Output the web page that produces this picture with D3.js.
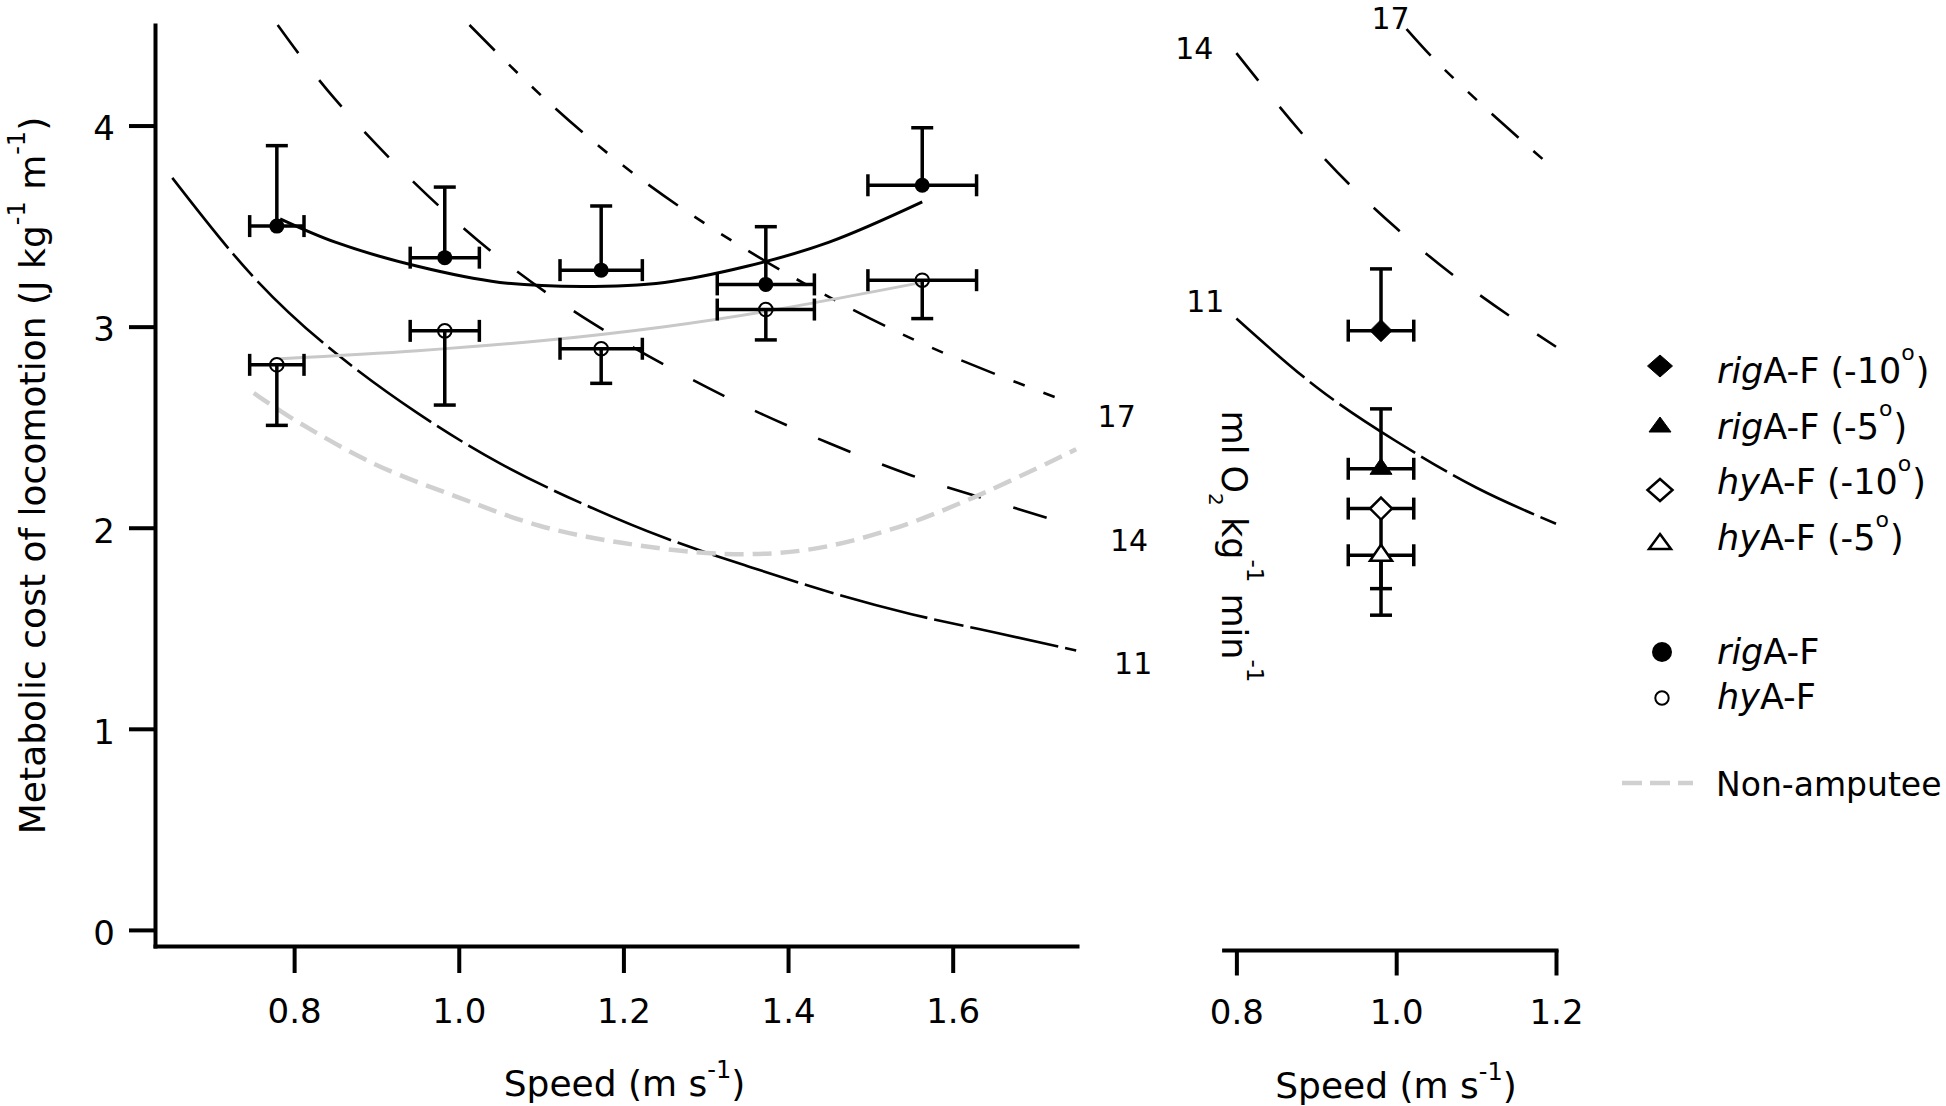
<!DOCTYPE html>
<html><head><meta charset="utf-8">
<script src="https://cdn.jsdelivr.net/npm/d3@7"></script>
<style>
body{margin:0;background:#fff}
svg{display:block}
text{font-family:"DejaVu Sans",sans-serif;fill:#000}
</style>
</head><body>
<svg id="c" width="1946" height="1106"></svg>
<script>
// ---------------- DATA ----------------
const speeds        = [0.779, 0.983, 1.173, 1.373, 1.563];
const speedErr      = [0.033, 0.042, 0.050, 0.059, 0.066];
const rigCost       = [3.500, 3.343, 3.281, 3.210, 3.703];
const rigCostErrUp  = [0.400, 0.351, 0.319, 0.287, 0.286];
const hyCost        = [2.810, 2.979, 2.890, 3.085, 3.231];
const hyCostErrDown = [0.301, 0.369, 0.172, 0.151, 0.191];

const rigFit = [[0.783,3.536],[0.85,3.42],[0.95,3.30],[1.05,3.22],[1.15,3.20],[1.25,3.22],[1.35,3.30],[1.45,3.42],[1.563,3.62]];
const hyFit  = [[0.783,2.84],[0.95,2.88],[1.10,2.93],[1.25,3.00],[1.373,3.076],[1.563,3.22]];
const nonAmputee = [[0.751,2.67],[0.795,2.55],[0.896,2.32],[0.997,2.155],[1.098,2.01],[1.198,1.925],[1.322,1.87],[1.423,1.89],[1.524,1.99],[1.625,2.15],[1.75,2.39]];

// iso-VO2 lines (ml O2 kg-1 min-1)
const isoNames = ["11", "14", "17"];
const iso11Left  = [[0.652,3.74],[0.75,3.25],[0.85,2.87],[0.95,2.57],[1.05,2.32],[1.15,2.12],[1.25,1.95],[1.35,1.81],[1.45,1.68],[1.55,1.57],[1.65,1.48],[1.75,1.39]];
const iso14Left  = [[0.78,4.50],[0.85,4.13],[0.95,3.70],[1.05,3.34],[1.15,3.05],[1.25,2.81],[1.35,2.60],[1.45,2.42],[1.55,2.26],[1.65,2.13],[1.745,2.01]];
const iso17Left  = [[1.013,4.50],[1.10,4.15],[1.20,3.80],[1.30,3.51],[1.40,3.26],[1.50,3.04],[1.60,2.85],[1.73,2.64]];
const iso11Right = [[0.80,3.06],[0.90,2.72],[1.00,2.45],[1.10,2.22],[1.20,2.04]];
const iso14Right = [[0.80,4.38],[0.90,3.90],[1.00,3.51],[1.10,3.19],[1.20,2.92]];
const iso17Right = [[1.013,4.50],[1.05,4.34],[1.10,4.15],[1.15,3.97],[1.19,3.83]];

// slope conditions (right panel)
const slopeNames   = ["rig", "rig", "hy", "hy"];
const slopeAngles  = ["-10", "-5", "-10", "-5"];
const slopeSpeed   = [0.981, 0.981, 0.981, 0.981];
const slopeSpeedErr= [0.041, 0.041, 0.041, 0.041];
const slopeCost    = [3.000, 2.313, 2.115, 1.883];
const slopeErr     = [0.307, 0.298, 0.398, 0.298];
const slopeErrDir  = [1, 1, -1, -1];

const yTicks = [0, 1, 2, 3, 4];
const xTicksLeft = [0.8, 1.0, 1.2, 1.4, 1.6];
const xTicksRight = [0.8, 1.0, 1.2];

// ---------------- LAYOUT ----------------
const svg = d3.select("#c");
const xL = d3.scaleLinear().domain([0.631, 1.751]).range([155, 1077]);
const yL = d3.scaleLinear().domain([-0.08, 4.5]).range([946, 25]);
const xR = d3.scaleLinear().domain([0.784, 1.2]).range([1223.6, 1556]);
const yR = d3.scaleLinear().domain([-0.08, 4.5]).range([950, 29]);

const dash11 = "90,7,30,7", dash14 = "35,34", dash17 = "36,20,12,20,12,20";

function lineGen(xs, ys, curve) {
  return d3.line().x(d => xs(d[0])).y(d => ys(d[1])).curve(curve || d3.curveNatural);
}
function drawLine(data, xs, ys, stroke, width, dash, curve) {
  svg.append("path").attr("d", lineGen(xs, ys, curve)(data))
    .attr("fill", "none").attr("stroke", stroke).attr("stroke-width", width)
    .attr("stroke-dasharray", dash || null);
}

// iso lines
drawLine(iso11Left, xL, yL, "#000", 2.6, dash11);
drawLine(iso14Left, xL, yL, "#000", 2.6, dash14);
drawLine(iso17Left, xL, yL, "#000", 2.6, dash17);
drawLine(iso11Right, xR, yR, "#000", 2.6, dash11);
drawLine(iso14Right, xR, yR, "#000", 2.6, dash14);
drawLine(iso17Right, xR, yR, "#000", 2.6, dash17);

// iso labels (positions relative to curve ends)
const isoLabelLayout = [
  {src: iso11Left,  end: true,  xs: xL, ys: yL, dx: 57, dy: 13, name: 0},
  {src: iso14Left,  end: true,  xs: xL, ys: yL, dx: 57, dy: 14, name: 1},
  {src: iso17Left,  end: true,  xs: xL, ys: yL, dx: 57, dy: 17, name: 2},
  {src: iso11Right, end: false, xs: xR, ys: yR, dx: -31, dy: -18, name: 0},
  {src: iso14Right, end: false, xs: xR, ys: yR, dx: -42, dy: -5, name: 1},
  {src: iso17Right, end: false, xs: xR, ys: yR, dx: -16, dy: -11, name: 2}
];
isoLabelLayout.forEach(l => {
  const p = l.end ? l.src[l.src.length - 1] : l.src[0];
  svg.append("text").attr("x", l.xs(p[0]) + l.dx).attr("y", l.ys(p[1]) + l.dy + 11)
    .attr("text-anchor", "middle").attr("font-size", 30).text(isoNames[l.name]);
});

// non-amputee
drawLine(nonAmputee, xL, yL, "#d0d0d0", 4.5, "19,9", d3.curveCatmullRom.alpha(0.5));
// fits
drawLine(hyFit, xL, yL, "#c8c8c8", 3, null, d3.curveCatmullRom.alpha(0.5));
drawLine(rigFit, xL, yL, "#000", 3, null, d3.curveCatmullRom.alpha(0.5));

// error bars
const capH = 11, ebW = 3.5;
function errBar(xs, ys, v, ve, c, cEnd) {
  const g = svg.append("g").attr("stroke", "#000").attr("stroke-width", ebW).attr("fill", "none");
  const cx = xs(v), cy = ys(c), x1 = xs(v - ve), x2 = xs(v + ve), ye = ys(cEnd);
  g.append("line").attr("x1", x1).attr("x2", x2).attr("y1", cy).attr("y2", cy);
  g.append("line").attr("x1", x1).attr("x2", x1).attr("y1", cy - capH).attr("y2", cy + capH);
  g.append("line").attr("x1", x2).attr("x2", x2).attr("y1", cy - capH).attr("y2", cy + capH);
  g.append("line").attr("x1", cx).attr("x2", cx).attr("y1", cy).attr("y2", ye);
  g.append("line").attr("x1", cx - capH).attr("x2", cx + capH).attr("y1", ye).attr("y2", ye);
}
speeds.forEach((v, i) => {
  errBar(xL, yL, v, speedErr[i], rigCost[i], rigCost[i] + rigCostErrUp[i]);
  errBar(xL, yL, v, speedErr[i], hyCost[i], hyCost[i] - hyCostErrDown[i]);
});
slopeSpeed.forEach((v, i) => {
  errBar(xR, yR, v, slopeSpeedErr[i], slopeCost[i], slopeCost[i] + slopeErrDir[i] * slopeErr[i]);
});

// markers
speeds.forEach((v, i) => {
  svg.append("circle").attr("cx", xL(v)).attr("cy", yL(rigCost[i])).attr("r", 7.5).attr("fill", "#000");
  svg.append("circle").attr("cx", xL(v)).attr("cy", yL(hyCost[i])).attr("r", 6.8)
    .attr("fill", "none").attr("stroke", "#000").attr("stroke-width", 2);
});
const diamondPath = (w, h) => `M0,${-h}L${w},0L0,${h}L${-w},0Z`;
const trianglePath = (w, top, bot) => `M0,${-top}L${w},${bot}L${-w},${bot}Z`;
function marker(kind, open, x, y, legend) {
  const d = kind === "diamond"
    ? (legend ? diamondPath(12.5, 11) : diamondPath(11, 11))
    : (legend ? trianglePath(11, 9, 6) : trianglePath(11, 10.5, 5.5));
  svg.append("path").attr("d", d).attr("transform", `translate(${x},${y})`)
    .attr("fill", open ? "#fff" : "#000").attr("stroke", "#000")
    .attr("stroke-width", open ? 2.5 : 1).attr("stroke-linejoin", "miter");
}
slopeSpeed.forEach((v, i) => {
  marker(i % 2 === 0 ? "diamond" : "triangle", slopeNames[i] === "hy", xR(v), yR(slopeCost[i]), false);
});

// ---------------- AXES ----------------
function styleAxis(g, fs) {
  g.attr("font-family", null).attr("font-size", fs);
  g.selectAll("path.domain").attr("stroke-width", 4).attr("stroke-linecap", "square");
  g.selectAll(".tick line").attr("stroke-width", 4);
  g.selectAll(".tick text").attr("fill", "#000");
}
const fmt = d3.format(".1f");
const gxL = svg.append("g").attr("transform", "translate(0,946)")
  .call(d3.axisBottom(xL).tickValues(xTicksLeft).tickFormat(fmt).tickSize(27).tickSizeOuter(0).tickPadding(26));
styleAxis(gxL, 34);
const gyL = svg.append("g").attr("transform", "translate(155,0)")
  .call(d3.axisLeft(yL).tickValues(yTicks).tickFormat(d3.format("d")).tickSize(26).tickSizeOuter(0).tickPadding(14));
styleAxis(gyL, 34);
gyL.selectAll(".tick text").attr("dy", "0.42em");
const gxR = svg.append("g").attr("transform", "translate(0,950)")
  .call(d3.axisBottom(xR).tickValues(xTicksRight).tickFormat(fmt).tickSize(25.5).tickSizeOuter(0).tickPadding(24.5));
styleAxis(gxR, 34);

// ---------------- TITLES ----------------
function supText(sel, parts) {
  parts.forEach(p => {
    const t = sel.append("tspan").text(p.t);
    if (p.fs) t.attr("font-size", p.fs);
    if (p.dy) t.attr("dy", p.dy);
    if (p.dx) t.attr("dx", p.dx);
    if (p.it) t.attr("font-style", "italic");
  });
}
const speedParts = [{t: "Speed (m s"}, {t: "-1", fs: 24, dy: -18}, {t: ")", dy: 18}];
supText(svg.append("text").attr("x", 624.5).attr("y", 1096).attr("text-anchor", "middle").attr("font-size", 36), speedParts);
supText(svg.append("text").attr("x", 1396).attr("y", 1098).attr("text-anchor", "middle").attr("font-size", 36), speedParts);

supText(svg.append("text").attr("transform", "translate(45,475.5) rotate(-90)").attr("text-anchor", "middle").attr("font-size", 36),
  [{t: "Metabolic cost of locomotion (J kg"}, {t: "-1", fs: 24, dy: -20}, {t: " m", dy: 20}, {t: "-1", fs: 24, dy: -20}, {t: ")", dy: 20}]);

supText(svg.append("text").attr("transform", "translate(1222,546.5) rotate(90)").attr("text-anchor", "middle").attr("font-size", 35),
  [{t: "ml O"}, {t: "2", fs: 20, dy: 13}, {t: " kg", dy: -13}, {t: "-1", fs: 23, dy: -25}, {t: " min", dy: 25}, {t: "-1", fs: 23, dy: -25}]);

// ---------------- LEGEND ----------------
const legMarkerY = [366, 426, 490, 543];
const legTextY = [383, 439, 494, 550];
slopeNames.forEach((n, i) => {
  marker(i % 2 === 0 ? "diamond" : "triangle", n === "hy", 1660, legMarkerY[i], true);
  supText(svg.append("text").attr("x", 1717).attr("y", legTextY[i]).attr("font-size", 35),
    [{t: n, it: true}, {t: "A-F (" + slopeAngles[i]}, {t: "o", fs: 22, dy: -23}, {t: ")", dy: 23, dx: 1}]);
});
svg.append("circle").attr("cx", 1662).attr("cy", 652).attr("r", 10).attr("fill", "#000");
supText(svg.append("text").attr("x", 1717).attr("y", 664).attr("font-size", 35), [{t: "rig", it: true}, {t: "A-F"}]);
svg.append("circle").attr("cx", 1662).attr("cy", 698).attr("r", 6.7).attr("fill", "none").attr("stroke", "#000").attr("stroke-width", 2);
supText(svg.append("text").attr("x", 1717).attr("y", 709).attr("font-size", 35), [{t: "hy", it: true}, {t: "A-F"}]);
svg.append("line").attr("x1", 1622).attr("x2", 1693).attr("y1", 783).attr("y2", 783)
  .attr("stroke", "#d0d0d0").attr("stroke-width", 4.5).attr("stroke-dasharray", "20,8");
svg.append("text").attr("x", 1716).attr("y", 796).attr("font-size", 33).text("Non-amputee");
</script>
</body></html>
